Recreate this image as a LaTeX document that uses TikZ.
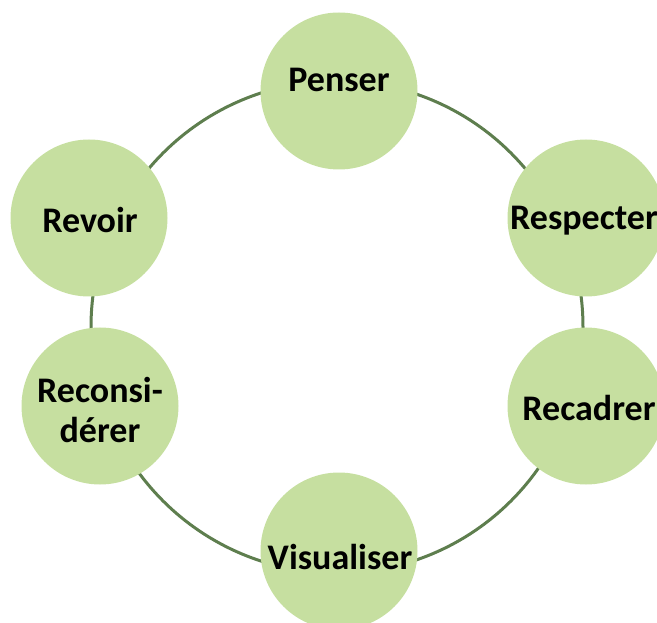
\documentclass[tikz,border=0pt]{standalone}
\usepackage{fontspec}
\setmainfont{Carlito}
\definecolor{ringgreen}{HTML}{5E7E4E}
\definecolor{fillgreen}{HTML}{C6DFA0}
\begin{document}
\begin{tikzpicture}[x=1pt,y=-1pt,
  stage/.style={circle, fill=fillgreen, minimum size=157pt, inner sep=0pt},
  lbl/.style={font=\fontsize{36}{40}\selectfont\bfseries, text=black, align=center, inner sep=0pt}]
\useasboundingbox (0,0) rectangle (657,623);
\coordinate (c) at (337,327);
\draw[ringgreen, line width=3pt] (c) circle[radius=246];
\node[stage] (penser) at (339,91) {};
\node[stage] (respecter) at (586,218) {};
\node[stage] (recadrer) at (586,406) {};
\node[stage] (visualiser) at (339,551) {};
\node[stage] (reconsiderer) at (100,406) {};
\node[stage] (revoir) at (89,218) {};
\node[lbl] (tpenser) at (339,80) {Penser};
\node[lbl] (trespecter) at (584,221) {Respecter};
\node[lbl] (trecadrer) at (589,408) {Recadrer};
\node[lbl] (tvisualiser) at (340,557) {Visualiser};
\node[lbl] (treconsiderer) at (100,410) {Reconsi-\\dérer};
\node[lbl] (trevoir) at (90,220) {Revoir};
\end{tikzpicture}
\end{document}
